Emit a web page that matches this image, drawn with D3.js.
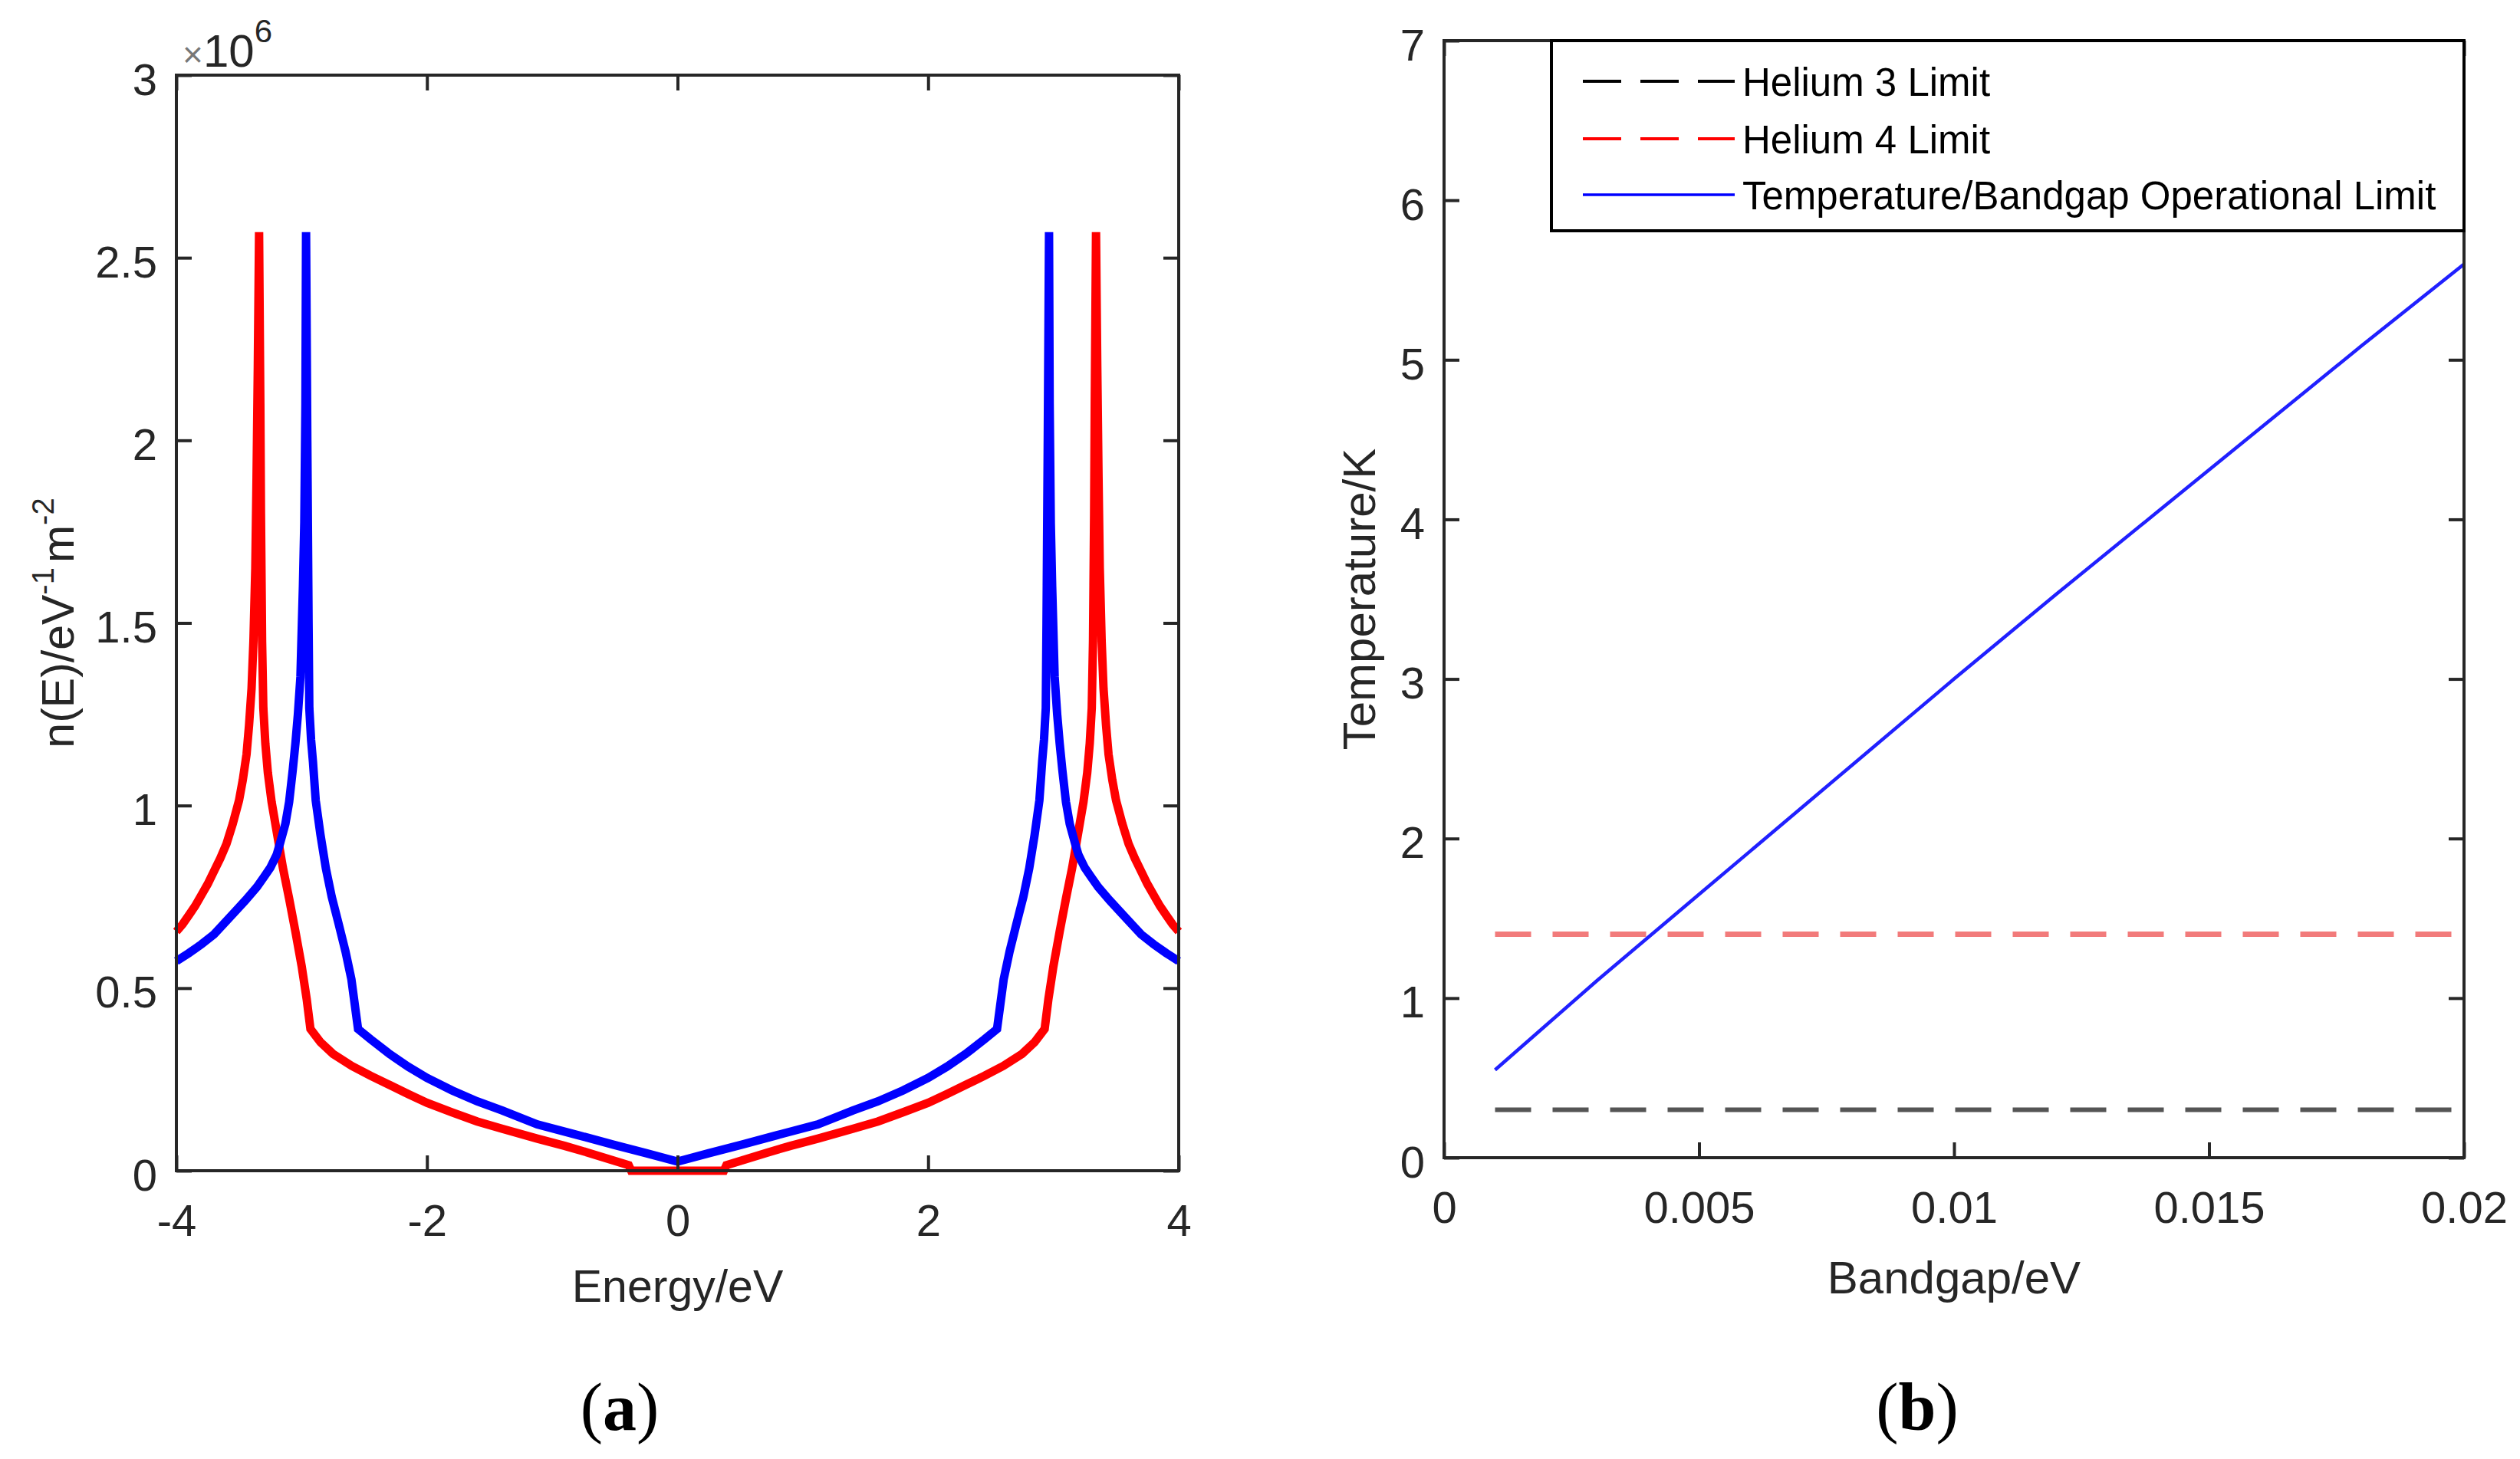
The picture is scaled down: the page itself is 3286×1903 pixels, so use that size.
<!DOCTYPE html>
<html>
<head>
<meta charset="utf-8">
<script src="https://cdn.jsdelivr.net/npm/d3@7"></script>
<style>
  html, body { margin: 0; padding: 0; background: #fff; }
  svg { display: block; }
</style>
</head>
<body>
<svg id="chart"></svg>
<script>
// ---- data: panel (a), density of states (values in 1e6 / eV / m^2) ----
const redEnergy = [-4.0, -3.95, -3.9, -3.85, -3.8, -3.75, -3.7, -3.65, -3.6, -3.55, -3.5, -3.47, -3.44, -3.42, -3.40,
  -3.385, -3.37, -3.36, -3.35, -3.34, -3.33, -3.325, -3.316, -3.306, -3.29, -3.27, -3.24, -3.2, -3.15, -3.1, -3.05,
  -3.0, -2.96, -2.93, -2.85, -2.75, -2.6, -2.45, -2.3, -2.15, -2.0, -1.8, -1.6, -1.4, -1.12, -0.9, -0.72, -0.55,
  -0.39, -0.37,
  0.37, 0.39, 0.55, 0.72, 0.9, 1.12, 1.4, 1.6, 1.8, 2.0, 2.15, 2.3, 2.45, 2.6, 2.75, 2.85, 2.93, 2.96, 3.0, 3.05,
  3.1, 3.15, 3.2, 3.24, 3.27, 3.29, 3.306, 3.316, 3.325, 3.33, 3.34, 3.35, 3.36, 3.37, 3.385, 3.40, 3.42, 3.44,
  3.47, 3.5, 3.55, 3.6, 3.65, 3.7, 3.75, 3.8, 3.85, 3.9, 3.95, 4.0];
const redDos = [0.655, 0.675, 0.70, 0.725, 0.755, 0.785, 0.82, 0.855, 0.895, 0.95, 1.014, 1.07, 1.14, 1.22, 1.32,
  1.45, 1.65, 1.90, 2.20, 2.57, 2.10, 1.80, 1.45, 1.267, 1.17, 1.09, 1.01, 0.93, 0.83, 0.745, 0.655,
  0.56, 0.47, 0.388, 0.352, 0.32, 0.287, 0.26, 0.235, 0.21, 0.186, 0.16, 0.135, 0.115, 0.088, 0.068, 0.05, 0.032,
  0.015, 0,
  0, 0.015, 0.032, 0.05, 0.068, 0.088, 0.115, 0.135, 0.16, 0.186, 0.21, 0.235, 0.26, 0.287, 0.32, 0.352, 0.388, 0.47, 0.56, 0.655,
  0.745, 0.83, 0.93, 1.01, 1.09, 1.17, 1.267, 1.45, 1.80, 2.10, 2.57, 2.20, 1.90, 1.65, 1.45, 1.32, 1.22, 1.14,
  1.07, 1.014, 0.95, 0.895, 0.855, 0.82, 0.785, 0.755, 0.725, 0.70, 0.675, 0.655];

const blueEnergy = [-4.0, -3.9, -3.8, -3.7, -3.622, -3.53, -3.45, -3.357, -3.3, -3.25, -3.2, -3.174, -3.13, -3.1,
  -3.071, -3.05, -3.03, -3.01, -2.99, -2.979, -2.97, -2.965, -2.955, -2.945, -2.939, -2.925, -2.91, -2.888, -2.85,
  -2.807, -2.76, -2.705, -2.65, -2.603, -2.55, -2.45, -2.3, -2.15, -2.0, -1.8, -1.6, -1.4, -1.12, -0.8, -0.51, -0.25,
  0,
  0.25, 0.51, 0.8, 1.12, 1.4, 1.6, 1.8, 2.0, 2.15, 2.3, 2.45, 2.55, 2.603, 2.65, 2.705, 2.76, 2.807, 2.85, 2.888,
  2.91, 2.925, 2.939, 2.945, 2.955, 2.965, 2.97, 2.979, 2.99, 3.01, 3.03, 3.05, 3.071, 3.1, 3.13, 3.174, 3.2, 3.25,
  3.3, 3.357, 3.45, 3.53, 3.622, 3.7, 3.8, 3.9, 4.0];
const blueDos = [0.574, 0.596, 0.62, 0.647, 0.676, 0.71, 0.74, 0.777, 0.805, 0.83, 0.865, 0.895, 0.95, 1.01,
  1.098, 1.17, 1.25, 1.352, 1.6, 1.774, 2.1, 2.57, 2.0, 1.5, 1.267, 1.18, 1.12, 1.014, 0.92,
  0.828, 0.75, 0.676, 0.60, 0.524, 0.388, 0.36, 0.32, 0.285, 0.254, 0.22, 0.19, 0.165, 0.127, 0.098, 0.071, 0.048,
  0.025,
  0.048, 0.071, 0.098, 0.127, 0.165, 0.19, 0.22, 0.254, 0.285, 0.32, 0.36, 0.388, 0.524, 0.60, 0.676, 0.75, 0.828, 0.92, 1.014,
  1.12, 1.18, 1.267, 1.5, 2.0, 2.57, 2.1, 1.774, 1.6, 1.352, 1.25, 1.17, 1.098, 1.01, 0.95, 0.895, 0.865, 0.83,
  0.805, 0.777, 0.74, 0.71, 0.676, 0.647, 0.62, 0.596, 0.574];

const energyTicks = [-4, -2, 0, 2, 4];
const dosTicks = [0, 0.5, 1, 1.5, 2, 2.5, 3];

// ---- data: panel (b), temperature limits ----
const bandgap = [0.001, 0.002, 0.003, 0.004, 0.005, 0.006, 0.008, 0.010, 0.012, 0.014, 0.016, 0.018, 0.020];
const tempLimit = [0.55, 0.83, 1.11, 1.38, 1.65, 1.92, 2.46, 3.00, 3.53, 4.05, 4.57, 5.09, 5.60];
const limitBandgap = [0.001, 0.02];
const helium3 = [0.3, 0.3];
const helium4 = [1.4, 1.4];

const bandgapTicks = [0, 0.005, 0.01, 0.015, 0.02];
const tempTicks = [0, 1, 2, 3, 4, 5, 6, 7];

const legendLabels = ["Helium 3 Limit", "Helium 4 Limit", "Temperature/Bandgap Operational Limit"];

// ---- layout ----
const W = 3286, H = 1903;
const AXIS = "#262626";
const FONT = "'Liberation Sans', Arial, Helvetica, sans-serif";
const TICK = 20;

const svg = d3.select("#chart").attr("width", W).attr("height", H);
svg.append("rect").attr("width", W).attr("height", H).attr("fill", "#fff");

/**
 * Box axes with inward ticks on all four sides (MATLAB style)
 */
function drawFrame(xScale, yScale, xTicks, yTicks) {
    const [x0, x1] = xScale.range();
    const [y1, y0] = yScale.range();
    const fmt = d => String(d);

    const style = (sel) => {
        sel.attr("font-family", FONT).attr("font-size", 58);
        sel.select(".domain").remove();
        sel.selectAll("line").attr("stroke", AXIS).attr("stroke-width", 4);
        sel.selectAll("text").attr("fill", AXIS);
    };

    svg.append("g")
        .attr("transform", `translate(0,${y1})`)
        .call(d3.axisBottom(xScale).tickValues(xTicks).tickSizeInner(-TICK).tickSizeOuter(0).tickFormat(fmt))
        .call(style)
        .call(g => g.selectAll("text").attr("y", 85).attr("dy", null));

    svg.append("g")
        .attr("transform", `translate(0,${y0})`)
        .call(d3.axisTop(xScale).tickValues(xTicks).tickSizeInner(-TICK).tickSizeOuter(0).tickFormat(""))
        .call(style);

    svg.append("g")
        .attr("transform", `translate(${x0},0)`)
        .call(d3.axisLeft(yScale).tickValues(yTicks).tickSizeInner(-TICK).tickSizeOuter(0).tickFormat(fmt))
        .call(style)
        .call(g => g.selectAll("text").attr("x", -25).attr("y", 25).attr("dy", null));

    svg.append("g")
        .attr("transform", `translate(${x1},0)`)
        .call(d3.axisRight(yScale).tickValues(yTicks).tickSizeInner(-TICK).tickSizeOuter(0).tickFormat(""))
        .call(style);

    svg.append("rect")
        .attr("x", x0).attr("y", y0)
        .attr("width", x1 - x0).attr("height", y1 - y0)
        .attr("fill", "none")
        .attr("stroke", AXIS)
        .attr("stroke-width", 4);
}

// ---- panel (a) ----
const xA = d3.scaleLinear().domain([-4, 4]).range([230, 1537]);
const yA = d3.scaleLinear().domain([0, 3]).range([1527, 98]);

const lineA = (xs, ys) => d3.line()
    .x((d, i) => xA(xs[i]))
    .y((d, i) => yA(ys[i]))(xs);

svg.append("path")
    .attr("d", lineA(redEnergy, redDos))
    .attr("fill", "none")
    .attr("stroke", "#ff0000")
    .attr("stroke-width", 11)
    .attr("stroke-linejoin", "miter")
    .attr("stroke-miterlimit", 2);

svg.append("path")
    .attr("d", lineA(blueEnergy, blueDos))
    .attr("fill", "none")
    .attr("stroke", "#0000ff")
    .attr("stroke-width", 11)
    .attr("stroke-linejoin", "miter")
    .attr("stroke-miterlimit", 2);

drawFrame(xA, yA, energyTicks, dosTicks);

// exponent label
const expo = svg.append("text")
    .attr("x", 238).attr("y", 87)
    .attr("font-family", FONT).attr("fill", AXIS);
expo.append("tspan").attr("font-size", 46).attr("fill", "#777").text("\u00d7");
expo.append("tspan").attr("font-size", 60).text("10");
expo.append("tspan").attr("font-size", 42).attr("dy", -32).text("6");

// axis titles
svg.append("text")
    .attr("x", (xA.range()[0] + xA.range()[1]) / 2)
    .attr("y", 1698)
    .attr("text-anchor", "middle")
    .attr("font-family", FONT).attr("font-size", 59).attr("fill", AXIS)
    .text("Energy/eV");

const yTitleA = svg.append("text")
    .attr("transform", `translate(96,${(yA.range()[0] + yA.range()[1]) / 2}) rotate(-90)`)
    .attr("text-anchor", "middle")
    .attr("font-family", FONT).attr("font-size", 59).attr("fill", AXIS);
yTitleA.append("tspan").text("n(E)/eV");
yTitleA.append("tspan").attr("font-size", 40).attr("dy", -26).text("-1");
yTitleA.append("tspan").attr("dy", 26).attr("dx", 6).text("m");
yTitleA.append("tspan").attr("font-size", 40).attr("dy", -26).text("-2");

// ---- panel (b) ----
const xB = d3.scaleLinear().domain([0, 0.02]).range([1883, 3213]);
const yB = d3.scaleLinear().domain([0, 7]).range([1510, 53]);

const lineB = (xs, ys) => d3.line()
    .x((d, i) => xB(xs[i]))
    .y((d, i) => yB(ys[i]))(xs);

svg.append("path")
    .attr("d", lineB(limitBandgap, helium3))
    .attr("fill", "none")
    .attr("stroke", "#555555")
    .attr("stroke-width", 6)
    .attr("stroke-dasharray", "47,28");

svg.append("path")
    .attr("d", lineB(limitBandgap, helium4))
    .attr("fill", "none")
    .attr("stroke", "#f27b7b")
    .attr("stroke-width", 7)
    .attr("stroke-dasharray", "47,28");

svg.append("path")
    .attr("d", lineB(bandgap, tempLimit))
    .attr("fill", "none")
    .attr("stroke", "#2020ff")
    .attr("stroke-width", 4.5)
    .attr("stroke-linejoin", "round");

drawFrame(xB, yB, bandgapTicks, tempTicks);

svg.append("text")
    .attr("x", (xB.range()[0] + xB.range()[1]) / 2)
    .attr("y", 1687)
    .attr("text-anchor", "middle")
    .attr("font-family", FONT).attr("font-size", 60).attr("fill", AXIS)
    .text("Bandgap/eV");

svg.append("text")
    .attr("transform", `translate(1793,${(yB.range()[0] + yB.range()[1]) / 2}) rotate(-90)`)
    .attr("text-anchor", "middle")
    .attr("font-family", FONT).attr("font-size", 60).attr("fill", AXIS)
    .text("Temperature/K");

// legend
const legend = svg.append("g");
legend.append("rect")
    .attr("x", 2023).attr("y", 53)
    .attr("width", 3213 - 2023).attr("height", 301 - 53)
    .attr("fill", "#fff")
    .attr("stroke", "#000")
    .attr("stroke-width", 4);

const legendStyles = [
    { stroke: "#000000", dash: "50,25", width: 4 },
    { stroke: "#ff0000", dash: "50,25", width: 4 },
    { stroke: "#0000ff", dash: null, width: 3.5 }
];
const rowY = [106, 181, 254];

legendLabels.forEach((label, i) => {
    legend.append("line")
        .attr("x1", 2064).attr("x2", 2262)
        .attr("y1", rowY[i]).attr("y2", rowY[i])
        .attr("stroke", legendStyles[i].stroke)
        .attr("stroke-width", legendStyles[i].width)
        .attr("stroke-dasharray", legendStyles[i].dash);
    legend.append("text")
        .attr("x", 2272).attr("y", rowY[i] + 19)
        .attr("font-family", FONT).attr("font-size", 51).attr("fill", "#000")
        .text(label);
});

// ---- panel captions ----
[["a", 808], ["b", 2500]].forEach(([letter, cx]) => {
    const t = svg.append("text")
        .attr("x", cx).attr("y", 1865)
        .attr("text-anchor", "middle")
        .attr("font-family", "'Liberation Serif', 'Times New Roman', serif")
        .attr("font-size", 88).attr("fill", "#000");
    t.append("tspan").text("(");
    t.append("tspan").attr("font-weight", "bold").text(letter);
    t.append("tspan").text(")");
});
</script>
</body>
</html>
